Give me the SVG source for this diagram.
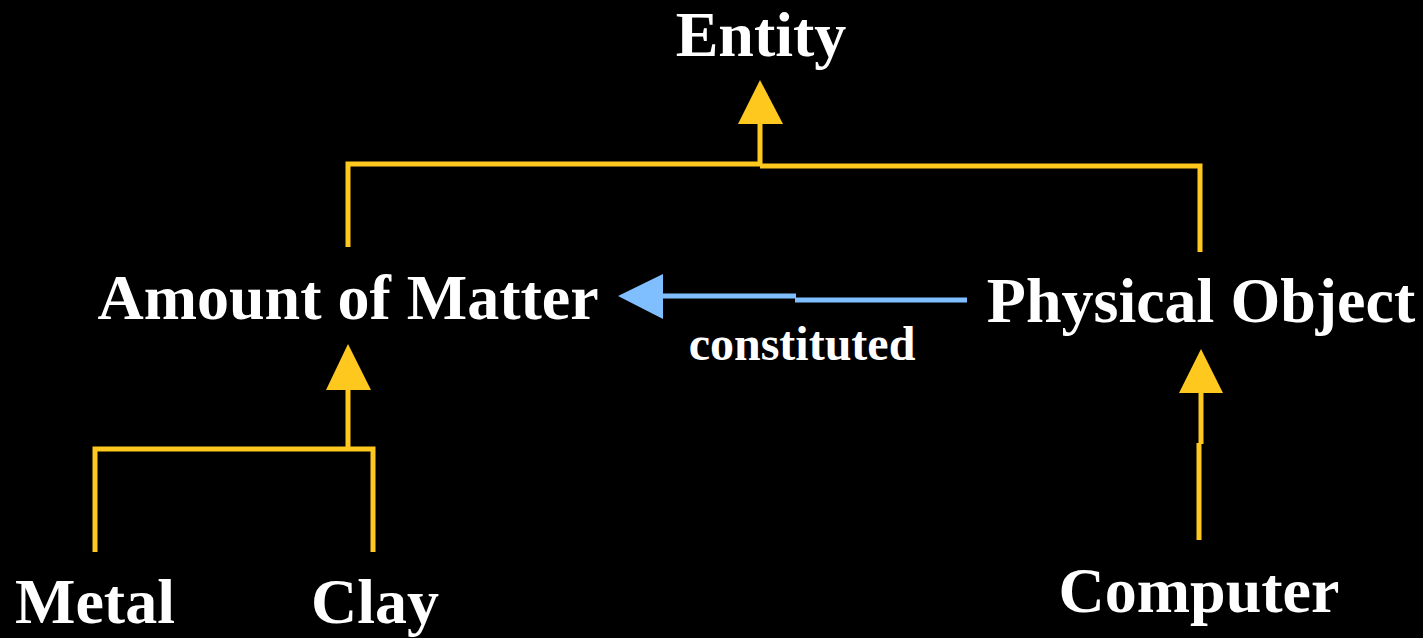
<svg xmlns="http://www.w3.org/2000/svg" width="1423" height="638" viewBox="0 0 1423 638">
<style>
.lbl{font-family:"Liberation Serif","Times New Roman",serif;font-weight:bold;font-size:64px;fill:#ffffff;text-anchor:middle}
.small{font-size:48px}
.y{fill:none;stroke:#FFC81E;stroke-width:5}
.yh{fill:#FFC81E}
.b{fill:none;stroke:#80BFFF;stroke-width:5}
.bh{fill:#80BFFF}
</style>
<rect width="1423" height="638" fill="#000000"/>
<g id="connectors">
  <path class="y" d="M348,247 V164 H760 M760,166 H1200 V252 M760,166 V122"/>
  <polygon class="yh" points="760,80 738,124 783,124"/>
  <path class="y" d="M95,552 V449 H373 V552 M348,449 V388"/>
  <polygon class="yh" points="348,344 326,390 371,390"/>
  <path class="y" d="M1199,540 V443 M1201,444 V391"/>
  <polygon class="yh" points="1201,349 1179,393 1223,393"/>
  <path class="b" d="M967,300 H795 M796,296 H660"/>
  <polygon class="bh" points="618,296 663,274 663,319"/>
  <text class="lbl small" x="802" y="360">constituted</text>
</g>
<g id="entity"><text class="lbl" x="761" y="56">Entity</text></g>
<g id="amount"><text class="lbl" x="348" y="319">Amount of Matter</text></g>
<g id="physical"><text class="lbl" x="1201" y="322">Physical Object</text></g>
<g id="metal"><text class="lbl" x="95" y="623">Metal</text></g>
<g id="clay"><text class="lbl" x="375" y="623">Clay</text></g>
<g id="computer"><text class="lbl" x="1199" y="612">Computer</text></g>
</svg>
